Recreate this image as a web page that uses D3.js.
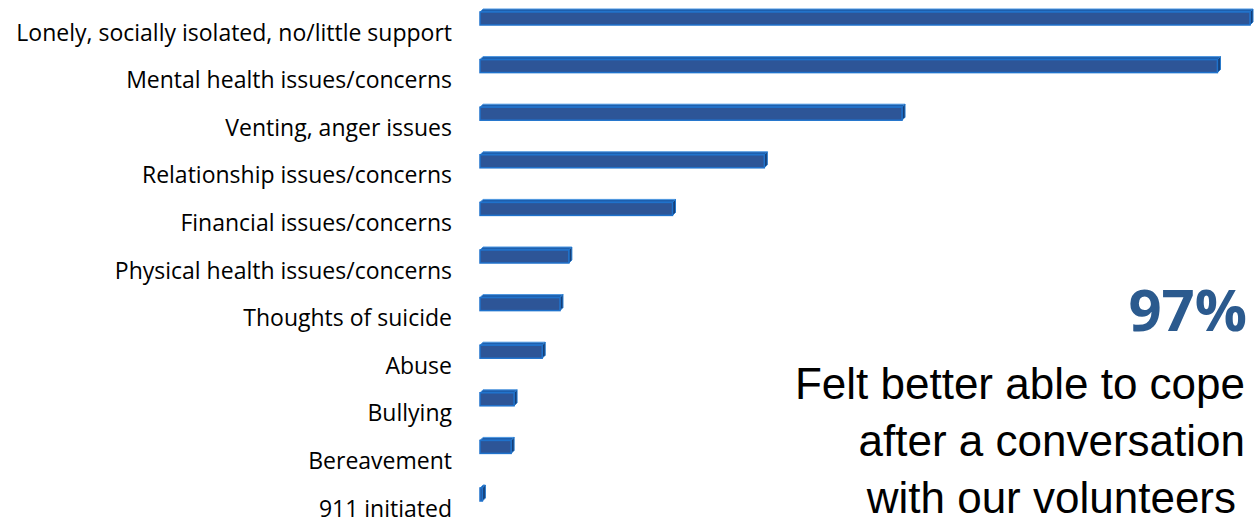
<!DOCTYPE html>
<html>
<head>
<meta charset="utf-8">
<script src="https://cdn.jsdelivr.net/npm/d3@7"></script>
<style>
  body { margin: 0; background: #fff; }
</style>
</head>
<body>
<div class="chart"></div>
<script>
// reasons for contact, top to bottom
const categories = [
  'Lonely, socially isolated, no/little support',
  'Mental health issues/concerns',
  'Venting, anger issues',
  'Relationship issues/concerns',
  'Financial issues/concerns',
  'Physical health issues/concerns',
  'Thoughts of suicide',
  'Abuse',
  'Bullying',
  'Bereavement',
  '911 initiated'
];
const values = [26.0, 24.9, 14.25, 9.6, 6.5, 3.0, 2.7, 2.1, 1.15, 1.05, 0.08];

const calloutBig = '97%';
const calloutLines = ['Felt better able to cope', 'after a conversation', 'with our volunteers'];

const width = 1260;
const height = 527;
const depth = 3;
const barH = 13;

const svg = d3.select('.chart')
  .append('svg')
  .attr('width', width)
  .attr('height', height);

const xScale = d3.scaleLinear()
  .domain([0, 26])
  .range([480, 1250]);

// row centres of the bar front faces
const yScale = d3.scalePoint()
  .domain(categories)
  .range([18.5, 18.5 + 47.6 * 10]);

const data = categories.map((c, i) => ({ cat: c, value: values[i] }));

const bars = svg.append('g').selectAll('g')
  .data(data)
  .join('g');

// top face
bars.append('path')
  .attr('d', d => {
    const x0 = xScale(0), x1 = xScale(d.value), t = yScale(d.cat) - barH / 2;
    return `M${x0},${t}L${x0 + depth},${t - depth}L${x1 + depth},${t - depth}L${x1},${t}Z`;
  })
  .style('fill', '#1d5fae')
  .style('stroke', '#4a95e0')
  .style('stroke-width', 1);

// right face
bars.append('path')
  .attr('d', d => {
    const x1 = xScale(d.value), t = yScale(d.cat) - barH / 2, b = t + barH;
    return `M${x1},${t}L${x1 + depth},${t - depth}L${x1 + depth},${b - depth}L${x1},${b}Z`;
  })
  .style('fill', '#163f78')
  .style('stroke', '#2277cc')
  .style('stroke-width', 1);

// front face
bars.append('rect')
  .attr('x', xScale(0))
  .attr('y', d => yScale(d.cat) - barH / 2)
  .attr('width', d => xScale(d.value) - xScale(0))
  .attr('height', barH)
  .style('fill', '#2d5597')
  .style('stroke', '#1f72cc')
  .style('stroke-width', 1.5);

// category labels
svg.append('g').selectAll('text')
  .data(categories)
  .join('text')
  .attr('x', 452)
  .attr('y', d => yScale(d) + 22)
  .attr('text-anchor', 'end')
  .style('font-family', '"Open Sans", sans-serif')
  .style('font-size', '23px')
  .style('fill', '#000')
  .text(d => d);

// callout
svg.append('text')
  .attr('x', 1247)
  .attr('y', 331)
  .attr('text-anchor', 'end')
  .style('font-family', '"Open Sans", sans-serif')
  .style('font-weight', 700)
  .style('font-size', '58px')
  .style('fill', '#2b5a8e')
  .text(calloutBig);

const lineX = [1245, 1245, 1236];
svg.append('g').selectAll('text')
  .data(calloutLines)
  .join('text')
  .attr('x', (d, i) => lineX[i])
  .attr('y', (d, i) => 399 + i * 57)
  .attr('text-anchor', 'end')
  .style('font-family', '"Liberation Sans", Arial, sans-serif')
  .style('font-size', '44px')
  .style('fill', '#000')
  .text(d => d);
</script>
</body>
</html>
